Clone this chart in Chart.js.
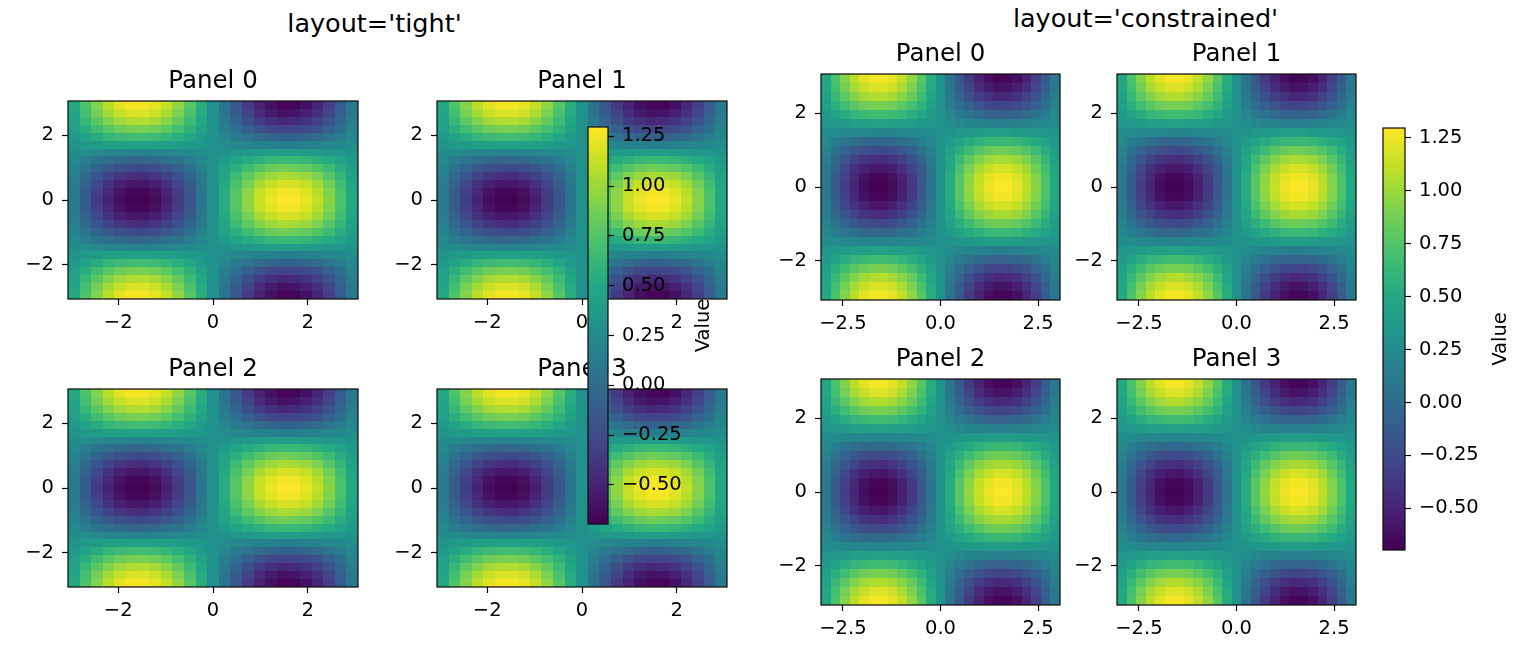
<!DOCTYPE html>
<html>
<head>
<meta charset="utf-8">
<script src="https://cdn.jsdelivr.net/npm/chart.js@4.4.1/dist/chart.umd.min.js"></script>
<style>
  body {
    margin: 0;
    width: 1520px;
    height: 645px;
    position: relative;
    overflow: hidden;
    background: #fff;
    font-family: "DejaVu Sans", sans-serif;
  }
  canvas {
    position: absolute;
  }
  .suptitle {
    position: absolute;
    font-size: 25.5px;
    line-height: 25.5px;
    white-space: nowrap;
    transform: translateX(-50%);
    color: #000;
  }
</style>
</head>
<body>

<div class="suptitle" style="left:374.5px; top:10.5px;">layout='tight'</div>
<div class="suptitle" style="left:1145.5px; top:5.5px;">layout='constrained'</div>

<script>

// DATA (cell centres, rows listed top to bottom)
const xCenters = [-2.938, -2.693, -2.448, -2.203, -1.958, -1.714, -1.469, -1.224, -0.979, -0.734, -0.490, -0.245, 0, 0.245, 0.490, 0.734, 0.979, 1.224, 1.469, 1.714, 1.958, 2.203, 2.448, 2.693, 2.938];
const yCenters = [2.938, 2.693, 2.448, 2.203, 1.958, 1.714, 1.469, 1.224, 0.979, 0.734, 0.490, 0.245, 0, -0.245, -0.490, -0.734, -0.979, -1.224, -1.469, -1.714, -1.958, -2.203, -2.448, -2.693, -2.938];

const zValues = [
  [0.50,0.73,0.93,1.09,1.21,1.27,1.27,1.22,1.11,0.96,0.76,0.54,0.30,0.06,-0.16,-0.36,-0.51,-0.62,-0.67,-0.67,-0.61,-0.49,-0.33,-0.13,0.10],
  [0.48,0.69,0.88,1.03,1.13,1.19,1.20,1.15,1.05,0.90,0.72,0.52,0.30,0.08,-0.12,-0.30,-0.45,-0.55,-0.60,-0.59,-0.53,-0.43,-0.28,-0.09,0.12],
  [0.45,0.63,0.79,0.92,1.01,1.06,1.07,1.02,0.94,0.82,0.66,0.49,0.30,0.11,-0.06,-0.22,-0.34,-0.42,-0.47,-0.46,-0.41,-0.32,-0.19,-0.03,0.15],
  [0.42,0.56,0.68,0.78,0.85,0.88,0.89,0.86,0.79,0.70,0.58,0.44,0.30,0.16,0.02,-0.10,-0.19,-0.26,-0.29,-0.28,-0.25,-0.18,-0.08,0.04,0.18],
  [0.38,0.46,0.54,0.61,0.65,0.67,0.68,0.66,0.61,0.55,0.48,0.39,0.30,0.21,0.12,0.05,-0.01,-0.06,-0.08,-0.07,-0.05,-0.01,0.06,0.14,0.22],
  [0.33,0.36,0.39,0.42,0.43,0.44,0.44,0.43,0.42,0.40,0.37,0.34,0.30,0.27,0.23,0.20,0.18,0.17,0.16,0.16,0.17,0.19,0.21,0.24,0.27],
  [0.28,0.26,0.23,0.22,0.21,0.20,0.20,0.20,0.22,0.23,0.25,0.28,0.30,0.32,0.35,0.37,0.38,0.40,0.40,0.40,0.39,0.38,0.36,0.34,0.32],
  [0.23,0.15,0.08,0.03,-0.02,-0.04,-0.04,-0.02,0.02,0.07,0.14,0.22,0.30,0.38,0.46,0.53,0.58,0.62,0.64,0.64,0.62,0.57,0.52,0.45,0.37],
  [0.19,0.06,-0.06,-0.15,-0.22,-0.25,-0.26,-0.23,-0.16,-0.07,0.04,0.17,0.30,0.44,0.56,0.67,0.76,0.83,0.86,0.85,0.82,0.75,0.66,0.54,0.41],
  [0.15,-0.02,-0.17,-0.30,-0.39,-0.43,-0.44,-0.40,-0.32,-0.20,-0.05,0.12,0.30,0.48,0.65,0.80,0.92,1.00,1.04,1.03,0.99,0.90,0.77,0.62,0.45],
  [0.12,-0.08,-0.26,-0.41,-0.52,-0.57,-0.58,-0.53,-0.43,-0.29,-0.12,0.09,0.30,0.51,0.72,0.89,1.03,1.13,1.18,1.17,1.12,1.01,0.86,0.68,0.48],
  [0.10,-0.12,-0.32,-0.48,-0.60,-0.66,-0.67,-0.61,-0.51,-0.35,-0.16,0.07,0.30,0.54,0.76,0.95,1.11,1.21,1.27,1.26,1.20,1.08,0.92,0.72,0.50],
  [0.10,-0.13,-0.34,-0.51,-0.63,-0.69,-0.69,-0.64,-0.53,-0.37,-0.17,0.06,0.30,0.54,0.77,0.97,1.13,1.24,1.29,1.29,1.23,1.11,0.94,0.73,0.50],
  [0.10,-0.12,-0.32,-0.48,-0.60,-0.66,-0.67,-0.61,-0.51,-0.35,-0.16,0.07,0.30,0.54,0.76,0.95,1.11,1.21,1.27,1.26,1.20,1.08,0.92,0.72,0.50],
  [0.12,-0.08,-0.26,-0.41,-0.52,-0.57,-0.58,-0.53,-0.43,-0.29,-0.12,0.09,0.30,0.51,0.72,0.89,1.03,1.13,1.18,1.17,1.12,1.01,0.86,0.68,0.48],
  [0.15,-0.02,-0.17,-0.30,-0.39,-0.43,-0.44,-0.40,-0.32,-0.20,-0.05,0.12,0.30,0.48,0.65,0.80,0.92,1.00,1.04,1.03,0.99,0.90,0.77,0.62,0.45],
  [0.19,0.06,-0.06,-0.15,-0.22,-0.25,-0.26,-0.23,-0.16,-0.07,0.04,0.17,0.30,0.44,0.56,0.67,0.76,0.83,0.86,0.85,0.82,0.75,0.66,0.54,0.41],
  [0.23,0.15,0.08,0.03,-0.02,-0.04,-0.04,-0.02,0.02,0.07,0.14,0.22,0.30,0.38,0.46,0.53,0.58,0.62,0.64,0.64,0.62,0.57,0.52,0.45,0.37],
  [0.28,0.26,0.23,0.22,0.21,0.20,0.20,0.20,0.22,0.23,0.25,0.28,0.30,0.32,0.35,0.37,0.38,0.40,0.40,0.40,0.39,0.38,0.36,0.34,0.32],
  [0.33,0.36,0.39,0.42,0.43,0.44,0.44,0.43,0.42,0.40,0.37,0.34,0.30,0.27,0.23,0.20,0.18,0.17,0.16,0.16,0.17,0.19,0.21,0.24,0.27],
  [0.38,0.46,0.54,0.61,0.65,0.67,0.68,0.66,0.61,0.55,0.48,0.39,0.30,0.21,0.12,0.05,-0.01,-0.06,-0.08,-0.07,-0.05,-0.01,0.06,0.14,0.22],
  [0.42,0.56,0.68,0.78,0.85,0.88,0.89,0.86,0.79,0.70,0.58,0.44,0.30,0.16,0.02,-0.10,-0.19,-0.26,-0.29,-0.28,-0.25,-0.18,-0.08,0.04,0.18],
  [0.45,0.63,0.79,0.92,1.01,1.06,1.07,1.02,0.94,0.82,0.66,0.49,0.30,0.11,-0.06,-0.22,-0.34,-0.42,-0.47,-0.46,-0.41,-0.32,-0.19,-0.03,0.15],
  [0.48,0.69,0.88,1.03,1.13,1.19,1.20,1.15,1.05,0.90,0.72,0.52,0.30,0.08,-0.12,-0.30,-0.45,-0.55,-0.60,-0.59,-0.53,-0.43,-0.28,-0.09,0.12],
  [0.50,0.73,0.93,1.09,1.21,1.27,1.27,1.22,1.11,0.96,0.76,0.54,0.30,0.06,-0.16,-0.36,-0.51,-0.62,-0.67,-0.67,-0.61,-0.49,-0.33,-0.13,0.10]
];

const panelTitles = ["Panel 0", "Panel 1", "Panel 2", "Panel 3"];
const axisLimits = [-3.06, 3.06];

const tightTicks = [-2, 0, 2];
const tightTickLabels = ["\u22122", "0", "2"];
const constrainedXTicks = [-2.5, 0, 2.5];
const constrainedXLabels = ["\u22122.5", "0.0", "2.5"];

const colorLimits = [-0.697, 1.297];
const colorbarTicks = [-0.5, -0.25, 0, 0.25, 0.5, 0.75, 1, 1.25];
const colorbarTickLabels = ["\u22120.50", "\u22120.25", "0.00", "0.25", "0.50", "0.75", "1.00", "1.25"];
const colorbarLabel = "Value";


// VIRIDIS COLOURMAP
const viridis = [
  [68, 1, 84], [72, 36, 117], [65, 68, 135], [53, 95, 141],
  [42, 120, 142], [33, 145, 140], [34, 168, 132], [68, 191, 112],
  [122, 209, 81], [189, 223, 38], [253, 231, 37]
];

function viridisColor(t) {
  t = Math.min(1, Math.max(0, t));
  const pos = t * (viridis.length - 1);
  const i = Math.min(viridis.length - 2, Math.floor(pos));
  const f = pos - i;
  const c = viridis[i].map((a, k) => Math.round(a + (viridis[i + 1][k] - a) * f));
  return "rgb(" + c.join(",") + ")";
}

function valueColor(v) {
  return viridisColor((v - colorLimits[0]) / (colorLimits[1] - colorLimits[0]));
}

// cell edges half way between neighbouring centres
function cellEdges(centers) {
  const edges = [centers[0] - (centers[1] - centers[0]) / 2];
  for (let i = 0; i < centers.length - 1; i++) {
    edges.push((centers[i] + centers[i + 1]) / 2);
  }
  const n = centers.length;
  edges.push(centers[n - 1] + (centers[n - 1] - centers[n - 2]) / 2);
  return edges;
}

const xEdges = cellEdges(xCenters);
const yEdges = cellEdges(yCenters);

const cells = [];
zValues.forEach((row, j) => {
  row.forEach((v, i) => {
    cells.push({
      x: xCenters[i], y: yCenters[j], v: v,
      xl: xEdges[i], xr: xEdges[i + 1],
      yt: yEdges[j], yb: yEdges[j + 1]
    });
  });
});


Chart.defaults.font.family = "DejaVu Sans";
Chart.defaults.color = "#000";

const FONT_TICK = 19.5;
const FONT_TITLE = 24.5;


// PLUGINS
const heatmapPlugin = {
  id: "heatmap",
  beforeDatasetsDraw(chart) {
    const ctx = chart.ctx;
    const a = chart.chartArea;
    const xs = chart.scales.x;
    const ys = chart.scales.y;
    ctx.save();
    ctx.beginPath();
    ctx.rect(a.left, a.top, a.width, a.height);
    ctx.clip();
    chart.data.datasets[0].data.forEach(c => {
      const x0 = Math.round(xs.getPixelForValue(c.xl));
      const x1 = Math.round(xs.getPixelForValue(c.xr));
      const y0 = Math.round(ys.getPixelForValue(c.yt));
      const y1 = Math.round(ys.getPixelForValue(c.yb));
      ctx.fillStyle = valueColor(c.v);
      ctx.fillRect(x0, y0, x1 - x0, y1 - y0);
    });
    ctx.restore();
  }
};

const colorbarPlugin = {
  id: "colorbarFill",
  beforeDatasetsDraw(chart) {
    const ctx = chart.ctx;
    const a = chart.chartArea;
    const ys = chart.scales.y;
    const g = ctx.createLinearGradient(
      0, ys.getPixelForValue(colorLimits[0]),
      0, ys.getPixelForValue(colorLimits[1])
    );
    viridis.forEach((c, i) => {
      g.addColorStop(i / (viridis.length - 1), "rgb(" + c.join(",") + ")");
    });
    ctx.save();
    ctx.fillStyle = g;
    ctx.fillRect(a.left, a.top, a.width, a.height);
    ctx.restore();
  }
};

function framePlugin(title, sideLabel) {
  return {
    id: "frame",
    afterDraw(chart) {
      const ctx = chart.ctx;
      const a = chart.chartArea;
      ctx.save();
      ctx.strokeStyle = "#111";
      ctx.lineWidth = 1.25;
      ctx.strokeRect(a.left, a.top, a.width, a.height);
      ctx.fillStyle = "#000";
      if (title) {
        ctx.font = FONT_TITLE + "px 'DejaVu Sans'";
        ctx.textAlign = "center";
        ctx.textBaseline = "alphabetic";
        ctx.fillText(title, a.left + a.width / 2, a.top - 13);
      }
      if (sideLabel) {
        ctx.font = FONT_TICK + "px 'DejaVu Sans'";
        ctx.translate(a.right + 96, a.top + a.height / 2);
        ctx.rotate(-Math.PI / 2);
        ctx.textAlign = "center";
        ctx.textBaseline = "middle";
        ctx.fillText(sideLabel, 0, 0);
      }
      ctx.restore();
    }
  };
}


// AXES
function axisOptions(position, min, max, tickValues, tickLabels, size) {
  return {
    type: "linear",
    position: position,
    min: min,
    max: max,
    afterBuildTicks: s => {
      s.ticks = tickValues.map(v => ({ value: v }));
    },
    afterFit: s => {
      if (position === "bottom") s.height = size;
      else s.width = size;
    },
    ticks: {
      callback: (v, i) => tickLabels[i],
      font: { size: FONT_TICK },
      color: "#000",
      padding: position === "bottom" ? 6 : 8,
      maxRotation: 0,
      autoSkip: false
    },
    grid: {
      display: true,
      drawOnChartArea: false,
      drawTicks: true,
      tickLength: 6,
      tickWidth: 1.2,
      tickColor: "#000"
    },
    border: { display: false }
  };
}

function addCanvas(left, top, width, height) {
  const c = document.createElement("canvas");
  c.width = width;
  c.height = height;
  c.style.left = left + "px";
  c.style.top = top + "px";
  document.body.appendChild(c);
  return c;
}

const PAD_L = 60, PAD_T = 45, PAD_R = 20, PAD_B = 40;

function makePanel(box, title, xTicks, xLabels, yTicks, yLabels) {
  const canvas = addCanvas(
    box.left - PAD_L, box.top - PAD_T,
    box.width + PAD_L + PAD_R, box.height + PAD_T + PAD_B
  );
  new Chart(canvas, {
    type: "scatter",
    data: {
      datasets: [{
        data: cells,
        pointRadius: 0,
        pointHoverRadius: 0,
        showLine: false
      }]
    },
    options: {
      responsive: false,
      animation: false,
      events: [],
      layout: { padding: { left: 0, top: PAD_T, right: PAD_R, bottom: 0 } },
      plugins: { legend: { display: false }, tooltip: { enabled: false } },
      scales: {
        x: axisOptions("bottom", axisLimits[0], axisLimits[1], xTicks, xLabels, PAD_B),
        y: axisOptions("left", axisLimits[0], axisLimits[1], yTicks, yLabels, PAD_L)
      }
    },
    plugins: [heatmapPlugin, framePlugin(title, null)]
  });
}

const CB_L = 2, CB_V = 25, CB_R = 115;

function makeColorbar(box) {
  const canvas = addCanvas(
    box.left - CB_L, box.top - CB_V,
    box.width + CB_L + CB_R, box.height + 2 * CB_V
  );
  new Chart(canvas, {
    type: "scatter",
    data: { datasets: [{ data: [], pointRadius: 0 }] },
    options: {
      responsive: false,
      animation: false,
      events: [],
      layout: { padding: { left: CB_L, top: CB_V, right: 0, bottom: CB_V } },
      plugins: { legend: { display: false }, tooltip: { enabled: false } },
      scales: {
        x: { type: "linear", display: false, min: 0, max: 1 },
        y: axisOptions("right", colorLimits[0], colorLimits[1], colorbarTicks, colorbarTickLabels, CB_R)
      }
    },
    plugins: [colorbarPlugin, framePlugin(null, colorbarLabel)]
  });
}


// LEFT FIGURE: layout='tight'
const tightBoxes = [
  { left: 68, top: 101, width: 290, height: 198 },
  { left: 437, top: 101, width: 290, height: 198 },
  { left: 68, top: 389, width: 290, height: 198 },
  { left: 437, top: 389, width: 290, height: 198 }
];

tightBoxes.forEach((box, i) => {
  makePanel(box, panelTitles[i], tightTicks, tightTickLabels, tightTicks, tightTickLabels);
});

makeColorbar({ left: 588, top: 127, width: 20, height: 397 });


// RIGHT FIGURE: layout='constrained'
const constrainedBoxes = [
  { left: 821, top: 74, width: 239, height: 226 },
  { left: 1117, top: 74, width: 239, height: 226 },
  { left: 821, top: 379, width: 239, height: 226 },
  { left: 1117, top: 379, width: 239, height: 226 }
];

constrainedBoxes.forEach((box, i) => {
  makePanel(box, panelTitles[i], constrainedXTicks, constrainedXLabels, tightTicks, tightTickLabels);
});

makeColorbar({ left: 1383, top: 128, width: 22, height: 422 });

</script>
</body>
</html>
